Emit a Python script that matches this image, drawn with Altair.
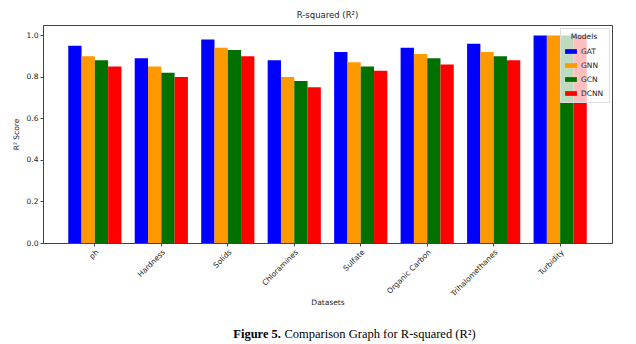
import altair as alt
import pandas as pd

datasets = ["ph", "Hardness", "Solids", "Chloramines", "Sulfate",
            "Organic Carbon", "Trihalomethanes", "Turbidity"]
models = ["GAT", "GNN", "GCN", "DCNN"]
colors = ["#0000FF", "#FF9900", "#007000", "#FF0000"]
gat = [0.95, 0.89, 0.98, 0.88, 0.92, 0.94, 0.96, 1.00]
gnn = [0.90, 0.85, 0.94, 0.80, 0.87, 0.91, 0.92, 1.00]
gcn = [0.88, 0.82, 0.93, 0.78, 0.85, 0.89, 0.90, 1.00]
dcnn = [0.85, 0.80, 0.90, 0.75, 0.83, 0.86, 0.88, 1.00]

rows = []
for m, vals in zip(models, [gat, gnn, gcn, dcnn]):
    for d, v in zip(datasets, vals):
        rows.append({"Dataset": d, "Model": m, "Score": v})
df = pd.DataFrame(rows)

FONT = "DejaVu Sans"

bars = alt.Chart(df).mark_bar(opacity=1).encode(
    x=alt.X("Dataset:N", sort=datasets, title="Datasets",
            scale=alt.Scale(paddingInner=0.2, paddingOuter=0.38),
            axis=alt.Axis(labelAngle=-45, labelAlign="right", labelBaseline="top",
                          bandPosition=0.5, labelFontSize=7.5, titleFontSize=7.5,
                          labelFont=FONT, titleFont=FONT, titlePadding=1,
                          titleFontWeight="normal",
                          labelColor="#222", titleColor="#222",
                          tickColor="#444", domainColor="#444", tickSize=3)),
    xOffset=alt.XOffset("Model:N", sort=models),
    y=alt.Y("Score:Q", title="R² Score",
            scale=alt.Scale(domain=[0, 1.05], nice=False),
            axis=alt.Axis(values=[0, 0.2, 0.4, 0.6, 0.8, 1.0], format=".1f",
                          grid=False, labelFontSize=7.5, titleFontSize=7.5,
                          labelFont=FONT, titleFont=FONT, titlePadding=6,
                          titleFontWeight="normal",
                          labelColor="#222", titleColor="#222",
                          tickColor="#444", domainColor="#444", tickSize=3)),
    color=alt.Color("Model:N", sort=models,
                    scale=alt.Scale(domain=models, range=colors),
                    legend=alt.Legend(title="Models", orient="top-right",
                                      offset=3,
                                      titleFontSize=7.5, labelFontSize=7.5,
                                      titleFont=FONT, labelFont=FONT,
                                      titleFontWeight="normal", titleAnchor="middle",
                                      labelColor="#222", titleColor="#222",
                                      symbolType="M-1,-0.4L1,-0.4L1,0.4L-1,0.4Z",
                                      symbolSize=140, symbolStrokeWidth=0,
                                      fillColor="rgba(255,255,255,0.75)",
                                      strokeColor="#ddd", padding=5,
                                      rowPadding=4)),
)

caption = alt.Chart(pd.DataFrame({"t": ["Figure 5."]})).mark_text(
    font="Liberation Serif", fontSize=12.5, fontWeight="bold", align="right",
    baseline="alphabetic", color="#000"
).encode(x=alt.value(238), y=alt.value(313), text="t:N")

caption2 = alt.Chart(pd.DataFrame({"t": ["Comparison Graph for R-squared (R²)"]})).mark_text(
    font="Liberation Serif", fontSize=12.5, align="left",
    baseline="alphabetic", color="#000"
).encode(x=alt.value(241.5), y=alt.value(313), text="t:N")

chart = alt.layer(bars, caption, caption2).properties(
    width=569, height=218,
    title=alt.TitleParams("R-squared (R²)", fontSize=8.5, font=FONT,
                          fontWeight="normal", color="#222", offset=6),
    autosize=alt.AutoSizeParams(type="none"),
    padding={"left": 43, "top": 25, "right": 24, "bottom": 101},
).configure_view(stroke="#444", strokeWidth=1)

chart.save("out.html", embed_options={"renderer": "svg", "actions": False})
